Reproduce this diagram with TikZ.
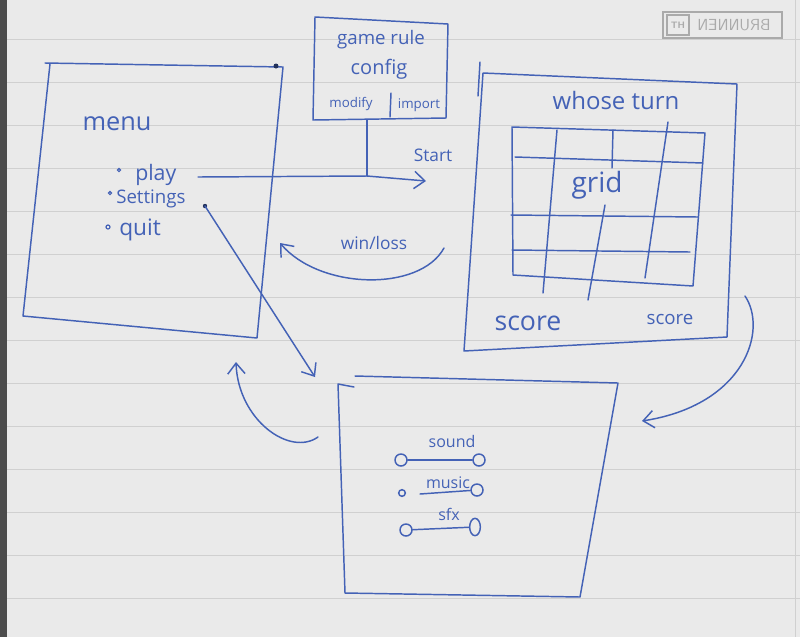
\documentclass[tikz,border=0pt]{standalone}
\usepackage{fontspec}
\setmainfont{Open Sans}
\usetikzlibrary{arrows.meta,shapes.geometric}

\definecolor{ink}{RGB}{68,98,182}
\definecolor{paper}{RGB}{234,234,234}
\definecolor{ruling}{RGB}{208,208,208}
\definecolor{stamp}{RGB}{170,170,170}

\tikzset{
  pen/.style={draw=ink, line width=1.1pt, line join=round, line cap=round},
  barb/.style={-{Straight Barb[length=8pt,width=13pt,line width=1.1pt]}},
  hand/.style={text=ink, inner sep=0pt},
  knob/.style={circle, draw=ink, line width=1.1pt, inner sep=0pt, minimum size=#1},
  knob/.default=9pt
}
\newcommand{\fsz}[1]{\fontsize{#1}{#1}\selectfont}

\begin{document}
\begin{tikzpicture}[x=0.75pt,y=0.75pt,yscale=-1,xscale=1]
\useasboundingbox (0,0) rectangle (800,637);

%Paper
\fill[paper] (0,0) rectangle (800,637);
\fill[black!70] (0,0) rectangle (7,637);
\foreach \y in {39,82,...,598}
  \draw[ruling, line width=0.7pt] (7,\y) -- (800,\y);
\draw[ruling, line width=0.7pt] (795,0) -- (795,637);

%Stamp
\draw[stamp, line width=0.8pt] (663,12) rectangle (782,38);
\draw[stamp, line width=0.8pt] (667,15) rectangle (689,35);
\node[text=stamp, font=\sffamily\bfseries\fsz{7}] (logo) at (678,25) {TH};
\node[text=stamp, font=\sffamily\fsz{12}, xscale=-1] (brand) at (734,25) {BRUNNEN};

%Menu box
\coordinate (m1) at (50,64);
\coordinate (m2) at (283,67);
\coordinate (m3) at (257,338);
\coordinate (m4) at (23,316);
\draw[pen] (45,63) -- (m2) -- (m3) -- (m4) -- (m1);
\fill[ink!50!black] (276,66) circle (2.5);

% Text Node
\node[hand, font=\fsz{19}] (menu) at (117,124) {menu};
\node[hand, font=\fsz{16}, anchor=west] (play) at (135,175) {play};
\node[hand, font=\fsz{14}, anchor=west] (settings) at (116,199) {Settings};
\node[hand, font=\fsz{17}, anchor=west] (quit) at (119,230) {quit};
\draw[ink, line width=0.9pt] (119,170) circle (1.6);
\draw[ink, line width=0.9pt] (110,193) circle (1.6);
\draw[ink, line width=0.9pt] (108,227) circle (2);
\coordinate (setdot) at (205,206);
\fill[ink!50!black] (setdot) circle (2.2);

%Game rule config box
\coordinate (c1) at (315,17);
\coordinate (c2) at (448,24);
\coordinate (c3) at (446,118);
\coordinate (c4) at (313,120);
\draw[pen] (c1) -- (c2) -- (c3) -- (c4) -- cycle;
\node[hand, font=\fsz{14}] (rule) at (381,40) {game rule};
\node[hand, font=\fsz{15}] (config) at (379,69) {config};
\node[hand, font=\fsz{10}] (modify) at (351,104) {modify};
\node[hand, font=\fsz{10}] (import) at (419,105) {import};
\draw[pen] (391,93) -- (390,117);

%Play line and stem
\coordinate (playout) at (198,177);
\coordinate (joint) at (367,176);
\coordinate (startin) at (426,181);
\draw[pen] (367,120) -- (joint);
\draw[pen, barb] (playout) -- (joint) -- (startin);
\node[hand, font=\fsz{13}] (start) at (433,155) {Start};

%Game box
\coordinate (g1) at (483,73);
\coordinate (g2) at (737,84);
\coordinate (g3) at (727,337);
\coordinate (g4) at (464,351);
\draw[pen] (g1) -- (g2) -- (g3) -- (g4) -- cycle;
\draw[pen] (480,62) -- (478,96);
\node[hand, font=\fsz{18}] (turn) at (616,100) {whose turn};

%Grid
\coordinate (r1) at (512,127);
\coordinate (r2) at (705,133);
\coordinate (r3) at (693,286);
\coordinate (r4) at (513,275);
\draw[pen] (r1) -- (r2) -- (r3) -- (r4) -- cycle;
\draw[pen] (515,157) -- (703,163);
\draw[pen] (511,215) -- (698,217);
\draw[pen] (512,250) -- (690,252);
\draw[pen] (557,130) -- (543,293);
\draw[pen] (613,130) -- (612,168);
\draw[pen] (605,205) -- (588,300);
\draw[pen] (668,122) -- (645,278);
\node[hand, font=\fsz{21}] (grid) at (597,185) {grid};
\node[hand, font=\fsz{20}] (scoreA) at (528,323) {score};
\node[hand, font=\fsz{14}] (scoreB) at (670,319) {score};

%Win/loss arrow
\coordinate (wlout) at (444,248);
\coordinate (wlin) at (280,243);
\draw[pen, barb] (wlout) .. controls (420,292) and (320,290) .. (wlin);
\node[hand, font=\fsz{13}] (winloss) at (374,243) {win/loss};

%Settings arrow
\coordinate (setin) at (315,377);
\draw[pen, barb] (setdot) -- (setin);

%Settings box
\coordinate (s1) at (338,384);
\coordinate (s2) at (618,383);
\coordinate (s3) at (580,597);
\coordinate (s4) at (345,593);
\draw[pen] (355,376) -- (s2) -- (s3) -- (s4) -- (s1) -- (354,387);

%Sliders
\node[knob] (soundL) at (401,460) {};
\node[knob] (soundR) at (479,460) {};
\draw[pen] (soundL) -- (soundR);
\node[hand, font=\fsz{12}] (sound) at (452,441) {sound};
\node[knob=5pt] (musicL) at (402,493) {};
\node[knob] (musicR) at (477,490) {};
\coordinate (musicA) at (420,494);
\draw[pen] (musicA) -- (musicR);
\node[hand, font=\fsz{12}] (music) at (448,483) {music};
\node[knob] (sfxL) at (406,530) {};
\node[ellipse, draw=ink, line width=1.1pt, minimum width=8pt, minimum height=13pt, inner sep=0pt] (sfxR) at (475,527) {};
\draw[pen] (sfxL) -- (sfxR);
\node[hand, font=\fsz{12}] (sfx) at (449,514) {sfx};

%Back to menu arrow
\coordinate (backout) at (318,437);
\coordinate (backin) at (236,362);
\draw[pen, barb] (backout) .. controls (290,457) and (238,420) .. (backin);

%Game to settings arrow
\coordinate (gsout) at (745,296);
\coordinate (gsin) at (642,421);
\draw[pen, barb] (gsout) .. controls (768,330) and (745,405) .. (gsin);

\end{tikzpicture}
\end{document}
